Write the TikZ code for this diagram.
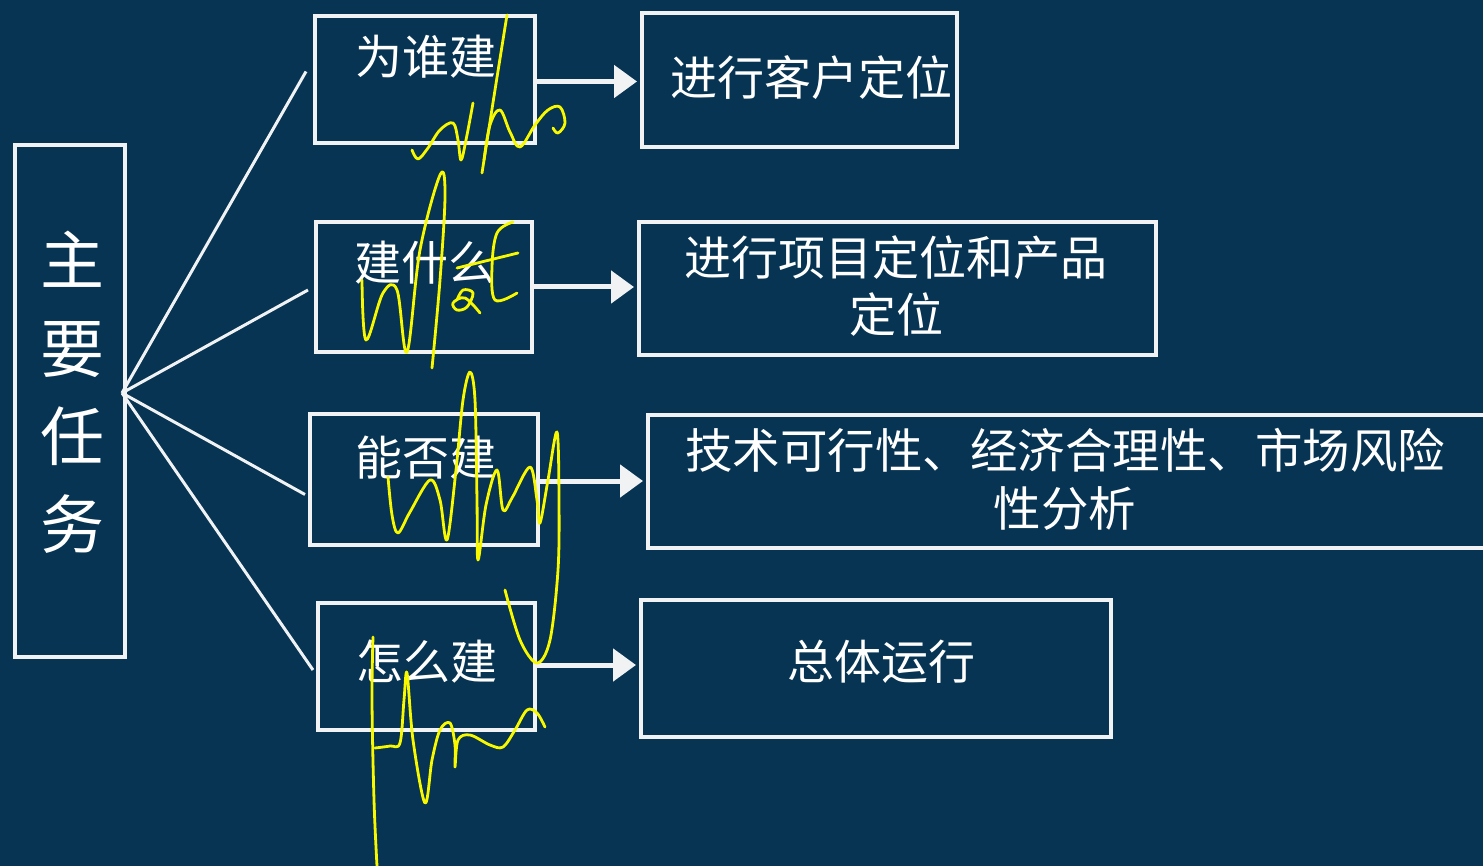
\documentclass[tikz,border=0pt]{standalone}
\usepackage{fontspec}
\setmainfont{Noto Sans CJK SC}
\usetikzlibrary{arrows.meta}
\definecolor{bg}{HTML}{063452}
\definecolor{ln}{HTML}{F0F2F4}
\definecolor{hand}{HTML}{F8F800}
\tikzset{
  box/.style={draw=ln, line width=4pt, inner sep=0pt},
  txt/.style={text=white, inner sep=0pt, font=\fontsize{47}{57}\selectfont, align=center},
  bigtxt/.style={text=white, inner sep=0pt, font=\fontsize{64}{88}\selectfont, align=center},
  link/.style={draw=ln, line width=3pt},
  arr/.style={draw=ln, line width=5pt, -{Triangle[length=23pt,width=32pt]}, shorten >=3pt},
  scrib/.style={draw=hand, line width=2.8pt, line cap=round, line join=round}
}
\begin{document}
\begin{tikzpicture}[x=1pt,y=-1pt]
\fill[bg] (0,0) rectangle (1483,866);
\useasboundingbox (0,0) rectangle (1483,866);
\begin{scope}
\clip (0,0) rectangle (1483,866);
% main box
\node[box, minimum width=110pt, minimum height=512pt] (main) at (70,401) {};
\node[bigtxt] (tM) at (72,392) {主\\要\\任\\务};
% middle boxes
\node[box, minimum width=220pt, minimum height=127pt] (bA) at (425,79.5) {};
\node[txt] (tA) at (426,57) {为谁建};
\node[box, minimum width=216pt, minimum height=130pt] (bB) at (424,287) {};
\node[txt] (tB) at (425,263) {建什么};
\node[box, minimum width=228pt, minimum height=131pt] (bC) at (424,479.5) {};
\node[txt] (tC) at (426,458) {能否建};
\node[box, minimum width=217pt, minimum height=127pt] (bD) at (426.5,666.5) {};
\node[txt] (tD) at (427,662) {怎么建};
% right boxes
\node[box, minimum width=315pt, minimum height=134pt] (rA) at (799.5,80) {};
\node[txt] (trA) at (811,78) {进行客户定位};
\node[box, minimum width=517pt, minimum height=133pt] (rB) at (897.5,288.5) {};
\node[txt] (trB) at (896,286.5) {进行项目定位和产品\\定位};
\node[box, minimum width=852pt, minimum height=133pt] (rC) at (1074,481.5) {};
\node[txt, font=\fontsize{47.5}{58}\selectfont] (trC) at (1065,479.5) {技术可行性、经济合理性、市场风险\\性分析};
\node[box, minimum width=470pt, minimum height=137pt] (rD) at (876,668.5) {};
\node[txt] (trD) at (881,662) {总体运行};
% fan connectors
\coordinate (hub) at (122,393);
\draw[link] (hub) -- ([shift={(-7,-8)}]bA.west);
\draw[link] (hub) -- ([shift={(-6,3)}]bB.west);
\draw[link] (hub) -- ([shift={(-3,15)}]bC.west);
\draw[link] (hub) -- ([shift={(-3,3.5)}]bD.west);
% arrows
\draw[arr] ([yshift=-2]bA.east) -- ([yshift=-2]bA.east -| rA.west);
\draw[arr] (bB.east) -- (bB.east -| rB.west);
\draw[arr] ([yshift=-1.5]bC.east) -- ([yshift=-1.5]bC.east -| rC.west);
\draw[arr] ([yshift=1.5]bD.east) -- ([yshift=1.5]bD.east -| rD.west);
% handwritten annotations
% who
\draw[scrib] plot[smooth, tension=0.6] coordinates {(412,150) (418,159) (428,148) (440,130) (453,123) (458,140) (461,160) (466,140) (473,103)};
\draw[scrib] plot[smooth, tension=0.6] coordinates {(507,15) (495,90) (482,173)};
\draw[scrib] plot[smooth, tension=0.6] coordinates {(484,160) (490,125) (500,110) (510,132) (520,147) (535,125) (548,110) (560,107) (565,123) (558,133) (553,128)};
% what
\draw[scrib] plot[smooth, tension=0.6] coordinates {(362,280) (366,340) (383,293) (397,290) (407,352) (420,250) (440,175) (445,195) (440,280) (432,368)};
\draw[scrib] plot[smooth, tension=0.6] coordinates {(457,300) (463,290) (473,293) (467,307) (457,310) (453,303) (465,298) (480,313)};
\draw[scrib] plot[smooth, tension=0.6] coordinates {(513,222) (497,233) (492,267) (495,300) (517,293)};
\draw[scrib] (457,268) -- (518,253);
% why
\draw[scrib] plot[smooth, tension=0.55] coordinates {(388,477) (392,515) (398,533) (410,512) (430,480) (440,500) (447,540) (456,470) (463,400) (470,372) (475,400) (477,500) (478,560) (486,505) (497,470) (503,510) (512,498) (530,467) (537,500) (540,523) (548,480) (557,432) (559,500) (558,570) (550,640) (537,663) (520,640) (505,590)};
% how
\draw[scrib] plot[smooth, tension=0.6] coordinates {(373,637) (372,700) (374,800) (377,866)};
\draw[scrib] plot[smooth, tension=0.55] coordinates {(375,748) (390,746) (400,743) (404,700) (407,673) (413,740) (425,803) (432,760) (440,730) (450,723) (455,745) (455,767) (458,740) (470,735) (490,745) (503,747) (515,730) (527,710) (537,713) (545,727)};
\end{scope}
\end{tikzpicture}
\end{document}
